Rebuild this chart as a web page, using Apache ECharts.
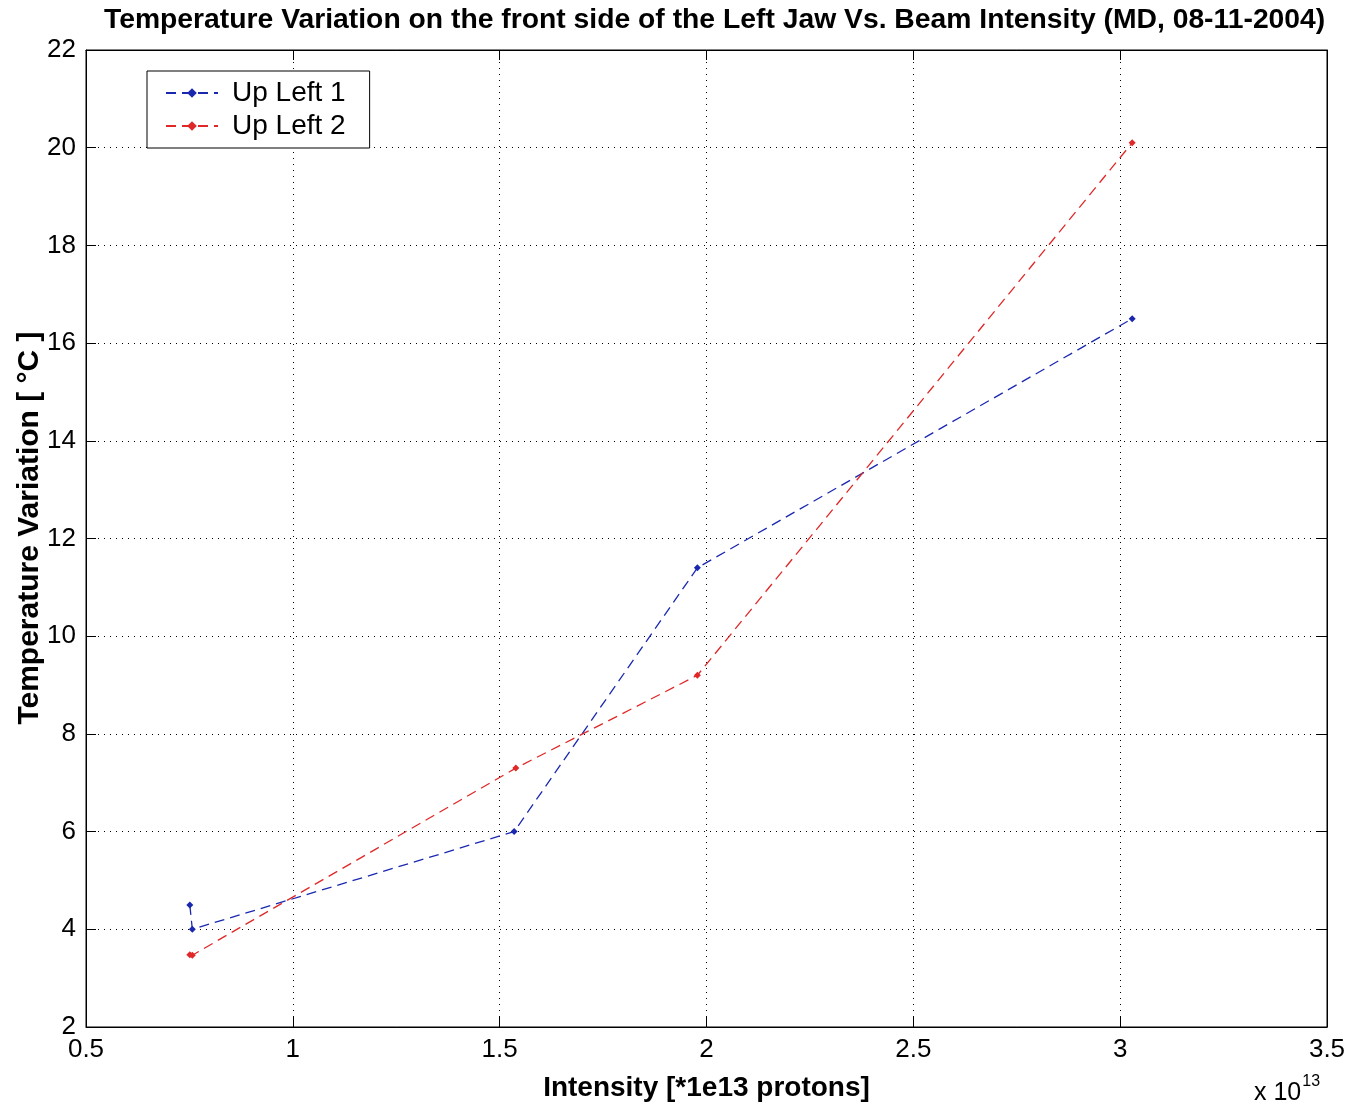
<!DOCTYPE html>
<html>
<head>
<meta charset="utf-8">
<script src="https://cdn.jsdelivr.net/npm/echarts@6/dist/echarts.min.js"></script>
<style>
  html, body { margin: 0; padding: 0; background: #fff; }
  #chart { width: 1361px; height: 1112px; }
</style>
</head>
<body>
<div id="chart"></div>
<script>
// Intensity in units of 1e13 protons
const upLeft1X = [0.751, 0.757, 1.535, 1.978, 3.029];
const upLeft1Y = [4.5, 4.0, 6.0, 11.4, 16.5];
const upLeft2X = [0.751, 0.757, 1.539, 1.978, 3.029];
const upLeft2Y = [3.48, 3.47, 7.3, 9.2, 20.1];

const xTicks = [0.5, 1, 1.5, 2, 2.5, 3, 3.5];
const yTicks = [2, 4, 6, 8, 10, 12, 14, 16, 18, 20, 22];

const pairs = (xs, ys) => xs.map((x, i) => [x, ys[i]]);

const FONT = '"Liberation Sans", Arial, sans-serif';
const chart = echarts.init(document.getElementById('chart'));

const gridLine = { show: true, lineStyle: { color: '#000', type: [1, 5], width: 1 } };
const tickStyle = { show: true, inside: true, length: 10, lineStyle: { color: '#000' } };

chart.setOption({
  backgroundColor: '#fff',
  animation: false,
  title: {
    text: 'Temperature Variation on the front side of the Left Jaw Vs. Beam Intensity (MD, 08-11-2004)',
    left: 99,
    top: 1,
    textStyle: { fontFamily: FONT, fontWeight: 'bold', fontSize: 28.3, color: '#000' }
  },
  grid: {
    left: 86, right: 34, top: 50, bottom: 85,
    containLabel: false, outerBoundsMode: 'none',
    show: true, borderColor: '#000', borderWidth: 1
  },
  legend: {
    left: 147, top: 71,
    orient: 'vertical',
    backgroundColor: '#fff',
    borderColor: '#000', borderWidth: 1,
    padding: [8, 24, 8, 18],
    itemGap: 5,
    itemWidth: 52, itemHeight: 12,
    textStyle: { fontFamily: FONT, fontSize: 28, color: '#000', padding: [0, 0, 0, 9] },
    data: ['Up Left 1', 'Up Left 2']
  },
  xAxis: [{
    type: 'value', min: 0.5, max: 3.5, interval: 0.5,
    axisLine: { show: true, lineStyle: { color: '#000' } },
    axisTick: tickStyle,
    axisLabel: { fontFamily: FONT, fontSize: 26, color: '#000', margin: 10, formatter: v => String(v) },
    splitLine: gridLine,
    name: 'Intensity [*1e13 protons]',
    nameLocation: 'middle', nameGap: 47,
    nameTextStyle: { fontFamily: FONT, fontWeight: 'bold', fontSize: 28, color: '#000' }
  }, {
    type: 'value', min: 0.5, max: 3.5, interval: 0.5, position: 'top',
    axisLine: { show: true, lineStyle: { color: '#000' } },
    axisTick: tickStyle,
    axisLabel: { show: false }, splitLine: { show: false }
  }],
  yAxis: [{
    type: 'value', min: 2, max: 22, interval: 2,
    axisLine: { show: true, lineStyle: { color: '#000' } },
    axisTick: tickStyle,
    axisLabel: { fontFamily: FONT, fontSize: 26, color: '#000', margin: 10 },
    splitLine: gridLine
  }, {
    type: 'value', min: 2, max: 22, interval: 2, position: 'right',
    axisLine: { show: true, lineStyle: { color: '#000' } },
    axisTick: tickStyle,
    axisLabel: { show: false }, splitLine: { show: false }
  }],
  series: [{
    name: 'Up Left 1', type: 'line',
    data: pairs(upLeft1X, upLeft1Y),
    symbol: 'diamond', symbolSize: 7,
    lineStyle: { color: '#1a28b0', width: 1.3, type: [10, 6] },
    itemStyle: { color: '#1a28b0' }
  }, {
    name: 'Up Left 2', type: 'line',
    data: pairs(upLeft2X, upLeft2Y),
    symbol: 'diamond', symbolSize: 7,
    lineStyle: { color: '#e02828', width: 1.3, type: [10, 6] },
    itemStyle: { color: '#e02828' }
  }],
  graphic: [{
    // y-axis title, rotated to read bottom-to-top
    type: 'text', x: 30, y: 528, rotation: Math.PI / 2,
    style: {
      text: 'Temperature Variation [ °C ]',
      fontFamily: FONT, fontWeight: 'bold', fontSize: 30, fill: '#000',
      align: 'center', verticalAlign: 'middle'
    }
  }, {
    type: 'text', left: 1254, top: 1074,
    style: {
      text: '{b|x 10}{s|13}',
      rich: {
        b: { fontFamily: FONT, fontSize: 25, fill: '#000', verticalAlign: 'bottom' },
        s: { fontFamily: FONT, fontSize: 16, fill: '#000', verticalAlign: 'top', padding: [0, 0, 16, 1] }
      }
    }
  }]
});
</script>
</body>
</html>
